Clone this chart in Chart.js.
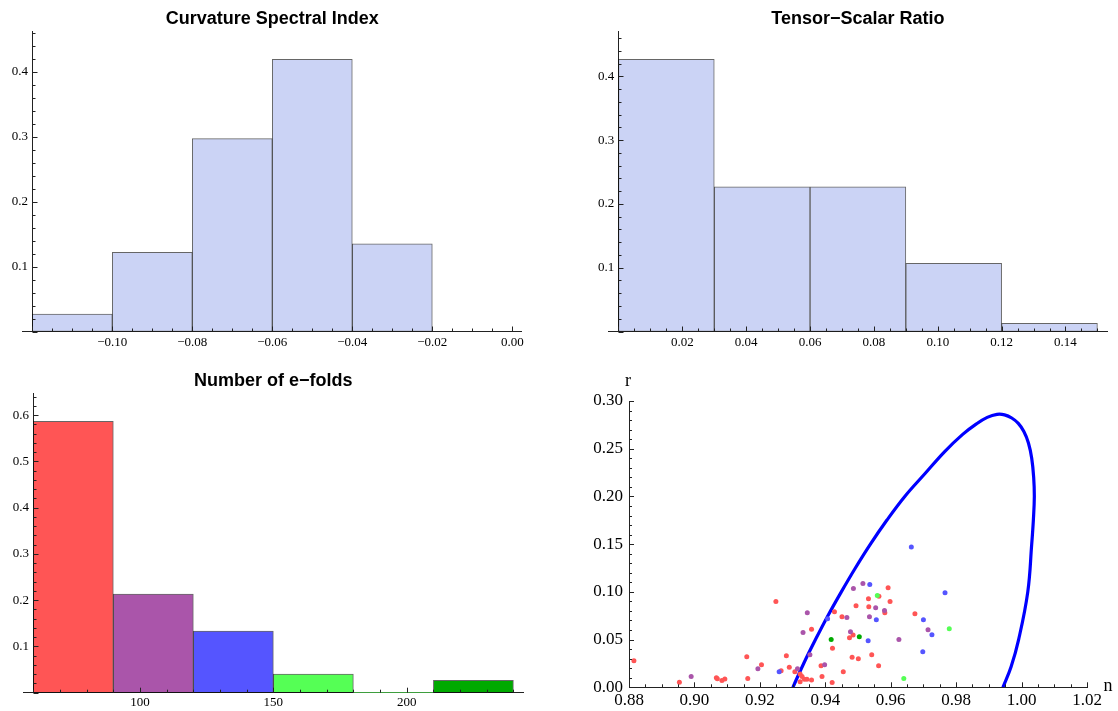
<!DOCTYPE html>
<html>
<head>
<meta charset="utf-8">
<script src="https://cdn.jsdelivr.net/npm/chart.js@4.4.1/dist/chart.umd.min.js"></script>
<style>
  html, body { margin: 0; padding: 0; background: #fff; overflow: hidden; }
  body { width: 1118px; height: 711px; position: relative; }
  canvas { position: absolute; }
</style>
</head>
<body>
<canvas id="indexChart" width="544" height="350" style="left:0;top:0"></canvas>
<canvas id="ratioChart" width="596" height="350" style="left:560px;top:0"></canvas>
<canvas id="efoldChart" width="547" height="361" style="left:0;top:350px"></canvas>
<canvas id="planeChart" width="596" height="361" style="left:560px;top:350px"></canvas>
<script>
// Curvature spectral index histogram (bin left edges, fraction per bin)
const indexBinWidth = 0.02;
const indexBins = [-0.12, -0.10, -0.08, -0.06, -0.04];
const indexFreq = [0.027, 0.122, 0.297, 0.419, 0.135];
const indexXTicks = [-0.10, -0.08, -0.06, -0.04, -0.02, 0.00];
const indexYTicks = [0.1, 0.2, 0.3, 0.4];

// Tensor-scalar ratio histogram
const ratioBinWidth = 0.03;
const ratioBins = [0.00, 0.03, 0.06, 0.09, 0.12];
const ratioFreq = [0.427, 0.227, 0.227, 0.107, 0.013];
const ratioXTicks = [0.02, 0.04, 0.06, 0.08, 0.10, 0.12, 0.14];
const ratioYTicks = [0.1, 0.2, 0.3, 0.4];

// Number of e-folds histogram
const efoldBinWidth = 30;
const efoldBins = [60, 90, 120, 150, 180, 210];
const efoldFreq = [0.587, 0.213, 0.133, 0.040, 0, 0.027];
const efoldColors = ['#ff5555', '#aa55aa', '#5555ff', '#55ff55', '#55ff55', '#00aa00'];
const efoldXTicks = [100, 150, 200];
const efoldYTicks = [0.1, 0.2, 0.3, 0.4, 0.5, 0.6];

// n-r plane, points coloured by e-fold bin
const redN = [0.8815, 0.8954, 0.9067, 0.9070, 0.9084, 0.9093, 0.9160, 0.9163, 0.9205, 0.9249,
  0.9265, 0.9281, 0.9290, 0.9307, 0.9323, 0.9323, 0.9329, 0.9336, 0.9344, 0.9358,
  0.9358, 0.9387, 0.9390, 0.9421, 0.9422, 0.9428, 0.9451, 0.9455, 0.9474, 0.9482,
  0.9485, 0.9494, 0.9501, 0.9532, 0.9533, 0.9542, 0.9563, 0.9564, 0.9592, 0.9598,
  0.9582, 0.9674];
const redR = [0.0279, 0.0052, 0.0101, 0.0090, 0.0070, 0.0087, 0.0321, 0.0091, 0.0237, 0.0900,
  0.0174, 0.0331, 0.0209, 0.0164, 0.0139, 0.0059, 0.0112, 0.0084, 0.0084, 0.0077,
  0.0607, 0.0227, 0.0112, 0.0049, 0.0408, 0.0792, 0.0739, 0.0164, 0.0520, 0.0314,
  0.0547, 0.0854, 0.0300, 0.0927, 0.0844, 0.0342, 0.0227, 0.0955, 0.1043, 0.0900,
  0.0780, 0.0770];
const purpleN = [0.8990, 0.9194, 0.9315, 0.9332, 0.9345, 0.9353, 0.9398, 0.9466, 0.9477, 0.9486,
  0.9515, 0.9535, 0.9554, 0.9581, 0.9625, 0.9714];
const purpleR = [0.0112, 0.0195, 0.0195, 0.0575, 0.0781, 0.0342, 0.0237, 0.0732, 0.0582, 0.1036,
  0.1088, 0.0739, 0.0834, 0.0805, 0.0502, 0.0603];
const blueN = [0.9259, 0.9407, 0.9536, 0.9531, 0.9556, 0.9663, 0.9766, 0.9700, 0.9726, 0.9698];
const blueR = [0.0164, 0.0718, 0.1077, 0.0488, 0.0708, 0.1470, 0.0990, 0.0707, 0.0550, 0.0372];
const lightGreenN = [0.9559, 0.9779, 0.9640];
const lightGreenR = [0.0962, 0.0613, 0.0091];
const darkGreenN = [0.9418, 0.9504];
const darkGreenR = [0.0502, 0.0530];

// blue boundary curve, read along its length
const curveN = [0.9301, 0.9334, 0.9370, 0.9408, 0.9449, 0.9492, 0.9538, 0.9588, 0.9643, 0.9705,
  0.9765, 0.9820, 0.9862, 0.9895, 0.9925, 0.9948, 0.9970, 0.9990, 1.0007, 1.0021,
  1.0031, 1.0037, 1.0039, 1.0036, 1.0031, 1.0019, 0.9991, 0.9968, 0.9943];
const curveR = [0.000, 0.025, 0.050, 0.075, 0.100, 0.125, 0.150, 0.175, 0.200, 0.224,
  0.247, 0.265, 0.276, 0.2828, 0.2860, 0.2855, 0.2822, 0.2765, 0.2680, 0.2560,
  0.2400, 0.2200, 0.2000, 0.1750, 0.1500, 0.1000, 0.0500, 0.0216, 0.000];
const planeXTicks = [0.88, 0.90, 0.92, 0.94, 0.96, 0.98, 1.00, 1.02];
const planeYTicks = [0.00, 0.05, 0.10, 0.15, 0.20, 0.25, 0.30];
const planeXName = 'n';
const planeYName = 'r';

Chart.defaults.font.family = '"Liberation Serif", "Times New Roman", serif';
Chart.defaults.font.size = 13;
Chart.defaults.color = '#000';

const AXIS_COLOR = '#222';
// axes placed at a value get no label padding from Chart.js, so keep a small gap in the text
const LABEL_GAP = '\u2006\u2006';

// Mathematica style tick marks: pointing into the plot, minor and major
function eachTick(min, max, step, major, fn) {
  for (let k = Math.ceil(min / step - 1e-6); k * step <= max + 1e-9; k++) {
    const v = k * step;
    fn(v, Math.abs(v / major - Math.round(v / major)) < 1e-6);
  }
}

const innerTicks = {
  id: 'innerTicks',
  afterDraw(chart, args, opts) {
    if (!opts.xMinor) return;
    const { ctx, chartArea: a, scales: { x, y } } = chart;
    const yAxisX = opts.yAt !== undefined ? Math.round(x.getPixelForValue(opts.yAt)) + 0.5 : a.left;
    ctx.save();
    ctx.strokeStyle = AXIS_COLOR;
    ctx.lineWidth = 1;
    ctx.beginPath();
    eachTick(opts.yAt !== undefined ? opts.yAt : x.min, x.max, opts.xMinor, opts.xMajor, (v, big) => {
      const px = Math.round(x.getPixelForValue(v)) + 0.5;
      ctx.moveTo(px, a.bottom);
      ctx.lineTo(px, a.bottom - (big ? 5 : 3));
    });
    eachTick(y.min, y.max, opts.yMinor, opts.yMajor, (v, big) => {
      const py = Math.round(y.getPixelForValue(v)) + 0.5;
      ctx.moveTo(yAxisX, py);
      ctx.lineTo(yAxisX + (big ? 5 : 3), py);
    });
    ctx.stroke();
    ctx.restore();
  }
};
Chart.register(innerTicks);

const axisNames = {
  id: 'axisNames',
  afterDraw(chart) {
    const { ctx, chartArea: a } = chart;
    ctx.save();
    ctx.font = '18px "Liberation Serif"';
    ctx.fillStyle = '#000';
    ctx.textAlign = 'center';
    ctx.textBaseline = 'middle';
    ctx.fillText(planeYName, a.left - 1, a.top - 20);
    ctx.fillText(planeXName, a.right + 21, a.bottom - 1);
    ctx.restore();
  }
};

const minus = v => (v < 0 ? '\u2212' : '') + Math.abs(v).toFixed(2);

function axis(c, horizontal) {
  const placed = c.at !== undefined;
  const s = {
    type: 'linear',
    min: c.min,
    max: c.max,
    offset: false,
    grid: { drawOnChartArea: false, drawTicks: false, offset: false },
    border: { color: AXIS_COLOR, width: 1 },
    ticks: {
      autoSkip: false, maxRotation: 0, padding: c.pad,
      font: { size: c.size || 13 },
      callback: v => c.fmt(v) + (placed ? LABEL_GAP : '')
    },
    afterBuildTicks: scale => { scale.ticks = c.ticks.map(v => ({ value: v })); }
  };
  if (placed) s.position = { x: c.at };
  else if (horizontal) s.afterFit = scale => { scale.height = c.fit; };
  else s.afterFit = scale => { scale.width = c.fit; };
  return s;
}

function histogram(id, bins, width, freq, colors, cfg) {
  const span = cfg.x.max - bins[0];
  new Chart(document.getElementById(id), {
    type: 'bar',
    data: {
      datasets: [{
        data: bins.map((b, i) => ({ x: b + width / 2, y: freq[i] })),
        backgroundColor: colors,
        borderColor: 'rgba(0,0,0,0.6)',
        borderWidth: freq.map(f => f > 0 ? 1 : 0),
        borderSkipped: false,
        barThickness: 'flex',
        categoryPercentage: 1,
        barPercentage: 1
      }]
    },
    options: {
      responsive: false,
      animation: false,
      events: [],
      layout: { padding: cfg.padding },
      scales: {
        // the plot range is padded on the left like the x axis overhang of the original
        x: axis(Object.assign({ min: bins[0] - span * 0.0196 }, cfg.x), true),
        y: axis(Object.assign({ at: bins[0] }, cfg.y), false)
      },
      plugins: {
        legend: { display: false },
        tooltip: { enabled: false },
        title: {
          display: true,
          fullSize: false,
          text: cfg.title,
          color: '#000',
          font: { family: '"Liberation Sans", Arial, sans-serif', size: 18, weight: 'bold', lineHeight: 1.2 },
          padding: cfg.titlePad
        },
        innerTicks: Object.assign({ yAt: bins[0] }, cfg.marks)
      }
    }
  });
}

histogram('indexChart', indexBins, indexBinWidth, indexFreq, '#cbd3f5', {
  title: 'Curvature Spectral Index',
  titlePad: { top: 8.2, bottom: 1.7 },
  padding: { left: 22.7, right: 22.1, top: 0, bottom: 0 },
  x: { max: 0.0024, ticks: indexXTicks, fmt: minus, pad: 3.4, fit: 18.5 },
  y: { min: 0, max: 0.462, ticks: indexYTicks, fmt: v => v.toFixed(1), pad: 4.5 },
  marks: { xMinor: 0.005, xMajor: 0.02, yMinor: 0.02, yMajor: 0.1 }
});

histogram('ratioChart', ratioBins, ratioBinWidth, ratioFreq, '#cbd3f5', {
  title: 'Tensor\u2212Scalar Ratio',
  titlePad: { top: 7.8, bottom: 2.1 },
  padding: { left: 48.9, right: 49, top: 0, bottom: 0 },
  x: { max: 0.153, ticks: ratioXTicks, fmt: minus, pad: 3.4, fit: 18.5 },
  y: { min: 0, max: 0.4705, ticks: ratioYTicks, fmt: v => v.toFixed(1), pad: 4.5 },
  marks: { xMinor: 0.005, xMajor: 0.02, yMinor: 0.02, yMajor: 0.1 }
});

histogram('efoldChart', efoldBins, efoldBinWidth, efoldFreq, efoldColors, {
  title: 'Number of e\u2212folds',
  titlePad: { top: 19.8, bottom: 1.6 },
  padding: { left: 23.7, right: 24, top: 0, bottom: 0 },
  x: { max: 243.6, ticks: efoldXTicks, fmt: v => String(v), pad: 1.8, fit: 18.3 },
  y: { min: 0, max: 0.648, ticks: efoldYTicks, fmt: v => v.toFixed(1), pad: 4.5 },
  marks: { xMinor: 10, xMajor: 50, yMinor: 0.02, yMajor: 0.1 }
});

// n-r plane
const pts = (ns, rs) => ns.map((n, i) => ({ x: n, y: rs[i] }));
const dots = (data, color) => ({ data, backgroundColor: color, borderWidth: 0, pointRadius: 2.5 });

new Chart(document.getElementById('planeChart'), {
  type: 'scatter',
  data: {
    datasets: [
      dots(pts(darkGreenN, darkGreenR), '#00aa00'),
      dots(pts(lightGreenN, lightGreenR), '#55ff55'),
      dots(pts(blueN, blueR), '#5555ff'),
      dots(pts(purpleN, purpleR), '#aa55aa'),
      dots(pts(redN, redR), '#ff5555'),
      {
        data: pts(curveN, curveR),
        showLine: true,
        borderColor: '#0000ff',
        borderWidth: 3.2,
        pointRadius: 0,
        tension: 0.4,
        fill: false
      }
    ]
  },
  options: {
    responsive: false,
    animation: false,
    events: [],
    layout: { padding: { left: 19, right: 69, top: 51, bottom: 0 } },
    scales: {
      x: axis({ min: 0.88, max: 1.02, ticks: planeXTicks, fmt: v => v.toFixed(2), pad: 3.5, fit: 23.7, size: 17 }, true),
      y: axis({ min: 0, max: 0.30, ticks: planeYTicks, fmt: v => v.toFixed(2), pad: 6, fit: 50, size: 17 }, false)
    },
    plugins: {
      legend: { display: false },
      tooltip: { enabled: false },
      innerTicks: { xMinor: 0.005, xMajor: 0.02, yMinor: 0.01, yMajor: 0.05 }
    }
  },
  plugins: [axisNames]
});
</script>
</body>
</html>
